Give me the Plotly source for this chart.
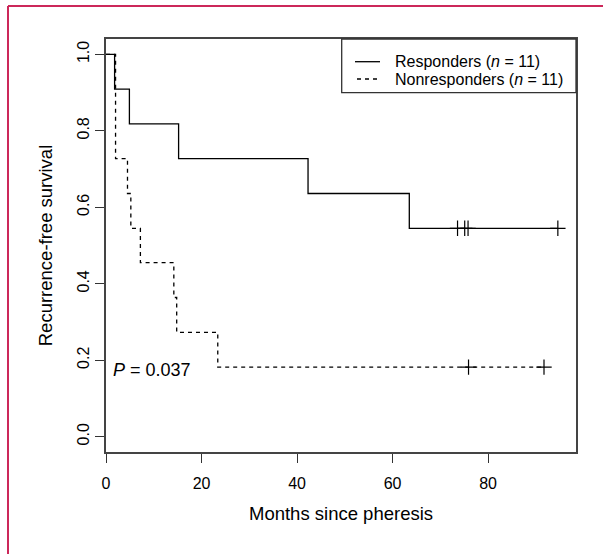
import plotly.graph_objects as go

# ---- data ----
resp_time = [0, 1.8, 4.9, 15.2, 42.3, 63.5, 94.6]
resp_surv = [1.0, 0.909, 0.818, 0.727, 0.636, 0.545, 0.545]
resp_cens_time = [73.6, 75.1, 75.8, 94.6]
resp_cens_surv = [0.545, 0.545, 0.545, 0.545]

nonr_time = [0, 2.0, 4.5, 5.2, 7.2, 14.2, 14.8, 23.4, 91.7]
nonr_surv = [1.0, 0.727, 0.636, 0.545, 0.455, 0.364, 0.273, 0.182, 0.182]
nonr_cens_time = [75.9, 91.7]
nonr_cens_surv = [0.182, 0.182]

x_ticks = [0, 20, 40, 60, 80]
y_ticks = [0.0, 0.2, 0.4, 0.6, 0.8, 1.0]
y_tick_labels = ["0.0", "0.2", "0.4", "0.6", "0.8", "1.0"]
legend_labels = ["Responders (<i>n</i> = 11)", "Nonresponders (<i>n</i> = 11)"]

FONT = "Liberation Sans, Arial, Helvetica, sans-serif"

W, H = 603, 554
L, R, T, B = 106, 27, 39, 102
pw, ph = W - L - R, H - T - B


def px(xp):
    return (xp - L) / pw


def py(yp):
    return (H - B - yp) / ph


fig = go.Figure()
fig.add_trace(go.Scatter(x=resp_time, y=resp_surv, mode="lines", line_shape="hv",
                         line=dict(color="black", width=1.3),
                         name=legend_labels[0], showlegend=False))
fig.add_trace(go.Scatter(x=nonr_time, y=nonr_surv, mode="lines", line_shape="hv",
                         line=dict(color="black", width=1.3, dash="4px,4px"),
                         name=legend_labels[1], showlegend=False))
fig.add_trace(go.Scatter(x=resp_cens_time, y=resp_cens_surv, mode="markers", showlegend=False,
                         marker=dict(symbol="cross-thin", size=11, line=dict(color="black", width=1.2))))
fig.add_trace(go.Scatter(x=nonr_cens_time, y=nonr_cens_surv, mode="markers", showlegend=False,
                         marker=dict(symbol="cross-thin", size=11, line=dict(color="black", width=1.2))))

fig.add_annotation(x=1.0, y=0.175, xref="x", yref="y", text="<i>P</i> = 0.037",
                   showarrow=False, xanchor="left", yanchor="middle",
                   font=dict(family=FONT, size=18, color="black"))

# legend box (drawn by hand to match R's legend layout)
fig.add_shape(type="rect", xref="paper", yref="paper", x0=px(341.7), x1=1, y0=py(92.7), y1=1,
              line=dict(color="#333", width=1.3), fillcolor="white", layer="above")
fig.add_shape(type="line", xref="paper", yref="paper", x0=px(355), x1=px(380), y0=py(61.7), y1=py(61.7),
              line=dict(color="black", width=1.3), layer="above")
fig.add_shape(type="line", xref="paper", yref="paper", x0=px(357), x1=px(381), y0=py(79), y1=py(79),
              line=dict(color="black", width=1.3, dash="4px,4px"), layer="above")
for lab, yy in zip(legend_labels, [61.7, 79]):
    fig.add_annotation(x=px(393), y=py(yy), xref="paper", yref="paper", text=lab,
                       showarrow=False, xanchor="left", yanchor="middle",
                       font=dict(family=FONT, size=16, color="black"))

# pink frame (left and top edges of the figure panel)
bx = px(8)
by = py(6)
fig.add_shape(type="line", xref="paper", yref="paper", x0=bx, x1=bx, y0=by, y1=py(H + 5),
              line=dict(color="rgb(204,40,90)", width=2))
fig.add_shape(type="line", xref="paper", yref="paper", x0=bx, x1=px(W + 5), y0=by, y1=by,
              line=dict(color="rgb(204,40,90)", width=2))

fig.update_layout(
    width=W, height=H,
    margin=dict(l=L, r=R, t=T, b=B),
    paper_bgcolor="white", plot_bgcolor="white",
    font=dict(family=FONT, size=16, color="black"),
    showlegend=False,
    xaxis=dict(range=[0, 98.4], tickvals=x_ticks, ticks="outside", ticklen=9,
               tickcolor="#333", tickwidth=1.3, ticklabelstandoff=7,
               showline=True, linecolor="#444", linewidth=1.5, mirror=True,
               showgrid=False, zeroline=False,
               tickfont=dict(size=16),
               title=dict(text="Months since pheresis", font=dict(size=18.5), standoff=16)),
    yaxis=dict(range=[-0.04, 1.04], tickvals=y_ticks, ticktext=y_tick_labels,
               ticks="outside", ticklen=9, tickcolor="#333", tickwidth=1.3,
               tickangle=-90,
               showline=True, linecolor="#444", linewidth=1.5, mirror=True,
               showgrid=False, zeroline=False,
               tickfont=dict(size=16),
               title=dict(text="Recurrence-free survival", font=dict(size=18.5), standoff=17)),
)

fig.write_html("out.html", config={"displayModeBar": False},
               post_script="document.body.style.margin='0';")
